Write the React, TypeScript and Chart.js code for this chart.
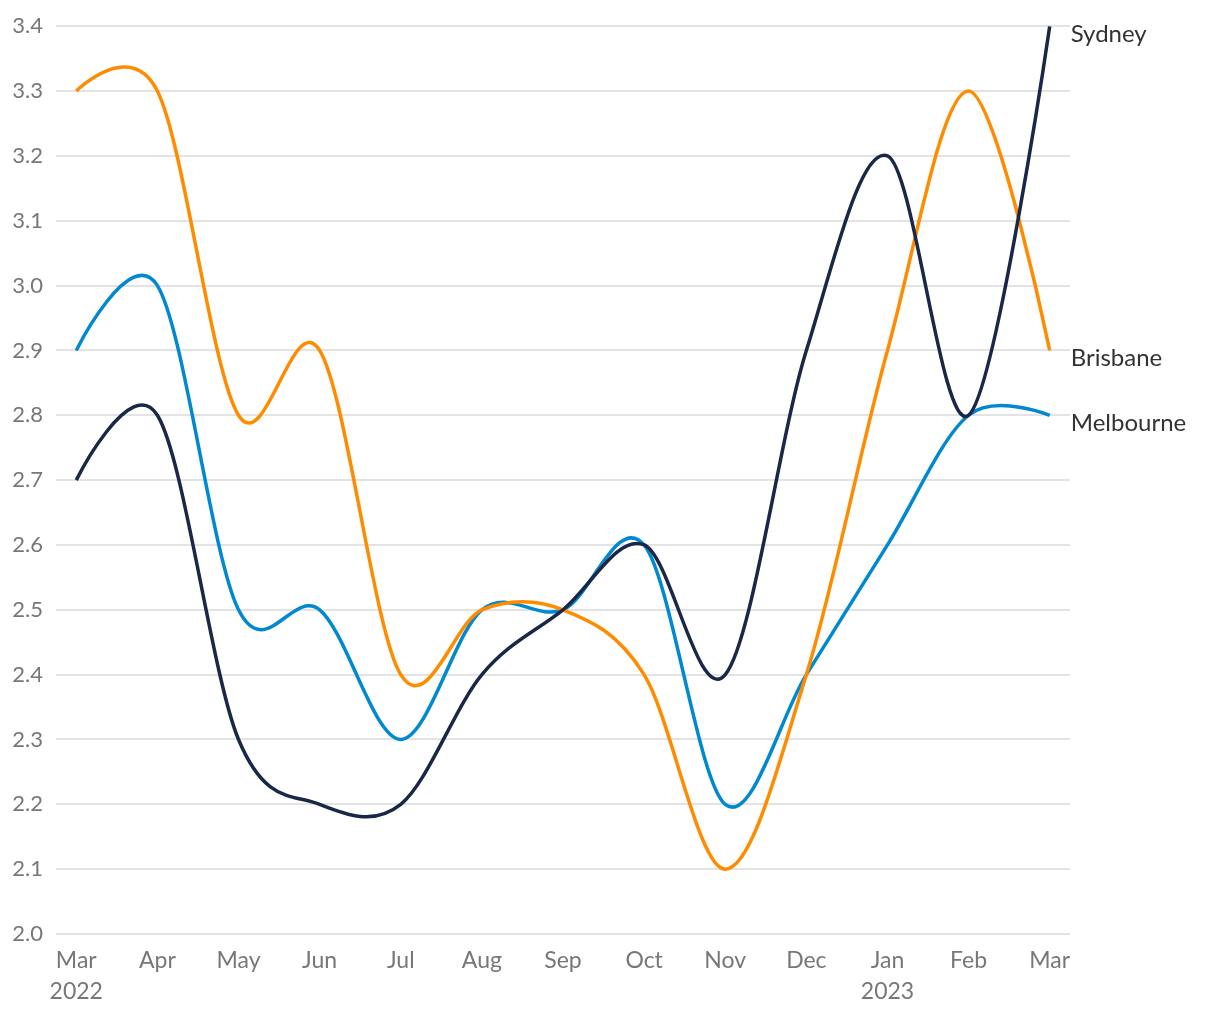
import React, { useEffect, useRef } from "react";
import { Chart, registerables } from "chart.js";

Chart.register(...registerables);

const months = ["Mar", "Apr", "May", "Jun", "Jul", "Aug", "Sep", "Oct", "Nov", "Dec", "Jan", "Feb", "Mar"];
const years = ["2022", "", "", "", "", "", "", "", "", "", "2023", "", ""];

const sydney = [2.7, 2.8, 2.3, 2.2, 2.2, 2.4, 2.5, 2.6, 2.4, 2.9, 3.2, 2.8, 3.4];
const brisbane = [3.3, 3.3, 2.8, 2.9, 2.4, 2.5, 2.5, 2.4, 2.1, 2.4, 2.9, 3.3, 2.9];
const melbourne = [2.9, 3.0, 2.5, 2.5, 2.3, 2.5, 2.5, 2.6, 2.2, 2.4, 2.6, 2.8, 2.8];

const seriesNames = ["Sydney", "Brisbane", "Melbourne"];
const seriesColors = ["#1b2747", "#ff8c00", "#0088d1"];

const FONT = "Lato, 'Noto Sans', sans-serif";

// Cardinal (uniform Catmull-Rom) interpolation: replaces the control points of
// each line element; the points themselves come from the chart's scales.
const cardinalSpline = {
  id: "cardinalSpline",
  beforeDatasetsDraw(chart: any) {
    const k = 1 / 6;
    chart.data.datasets.forEach((_: any, di: number) => {
      const meta = chart.getDatasetMeta(di);
      const line = meta.dataset;
      const pts = meta.data;
      if (!line || pts.length < 3) return;
      line.updateControlPoints(chart.chartArea, "x");
      const n = pts.length - 1;
      pts.forEach((p: any, i: number) => {
        if (i === 0 || i === n) {
          p.cp1x = p.x; p.cp1y = p.y; p.cp2x = p.x; p.cp2y = p.y;
          return;
        }
        const prev = pts[i - 1];
        const next = pts[i + 1];
        const dx = next.x - prev.x;
        const dy = next.y - prev.y;
        p.cp1x = p.x - k * dx;
        p.cp1y = p.y - k * dy;
        p.cp2x = p.x + k * dx;
        p.cp2y = p.y + k * dy;
      });
      line._path = undefined;
    });
  },
};

const endLabels = {
  id: "endLabels",
  afterDatasetsDraw(chart: any) {
    const ctx = chart.ctx;
    ctx.save();
    ctx.font = `24px ${FONT}`;
    ctx.fillStyle = "#333333";
    ctx.textAlign = "left";
    ctx.textBaseline = "alphabetic";
    chart.data.datasets.forEach((ds: any, i: number) => {
      const meta = chart.getDatasetMeta(i);
      const pt = meta.data[meta.data.length - 1];
      ctx.fillText(ds.label, pt.x + 21, pt.y + 16);
    });
    ctx.restore();
  },
};

export default function App() {
  const ref = useRef<HTMLCanvasElement>(null);
  useEffect(() => {
    document.body.style.margin = "0";
    const toPts = (arr: number[]) => arr.map((v, i) => ({ x: i, y: v }));
    const all = [sydney, brisbane, melbourne];
    const chart = new Chart(ref.current!, {
      type: "line",
      data: {
        datasets: all.map((arr, i) => ({
          label: seriesNames[i],
          data: toPts(arr),
          borderColor: seriesColors[i],
          backgroundColor: seriesColors[i],
          borderWidth: 3.5,
          pointRadius: 0,
          tension: 0.4,
          fill: false,
        })),
      },
      options: {
        animation: false,
        responsive: false,
        maintainAspectRatio: false,
        layout: { padding: { top: 22, right: 150, left: 0, bottom: 0 } },
        plugins: { legend: { display: false }, tooltip: { enabled: false } },
        scales: {
          x: {
            type: "linear",
            min: -0.25,
            max: 12.25,
            afterBuildTicks: (axis: any) => {
              axis.ticks = months.map((_, i) => ({ value: i }));
            },
            afterFit: (axis: any) => {
              axis.height = 86;
            },
            grid: { display: false },
            border: { display: false },
            ticks: {
              color: "#777777",
              font: { family: FONT, size: 23, lineHeight: 1.35 },
              padding: 3,
              maxRotation: 0,
              autoSkip: false,
              callback: (v: any) => {
                const i = Math.round(Number(v));
                return years[i] ? [months[i], years[i]] : months[i];
              },
            },
          },
          y: {
            min: 2.0,
            max: 3.4,
            afterFit: (axis: any) => {
              axis.width = 56;
            },
            grid: { color: "#e3e3e3", lineWidth: 2, drawTicks: false },
            border: { display: false },
            ticks: {
              stepSize: 0.1,
              color: "#777777",
              padding: 13,
              font: { family: FONT, size: 22 },
              callback: (v: any) => Number(v).toFixed(1),
            },
          },
        },
      },
      plugins: [cardinalSpline, endLabels],
    });
    return () => chart.destroy();
  }, []);
  return (
    <div style={{ position: "absolute", left: 0, top: 0, width: 1220, height: 1020 }}>
      <canvas ref={ref} width={1220} height={1020} style={{ width: 1220, height: 1020 }} />
    </div>
  );
}
